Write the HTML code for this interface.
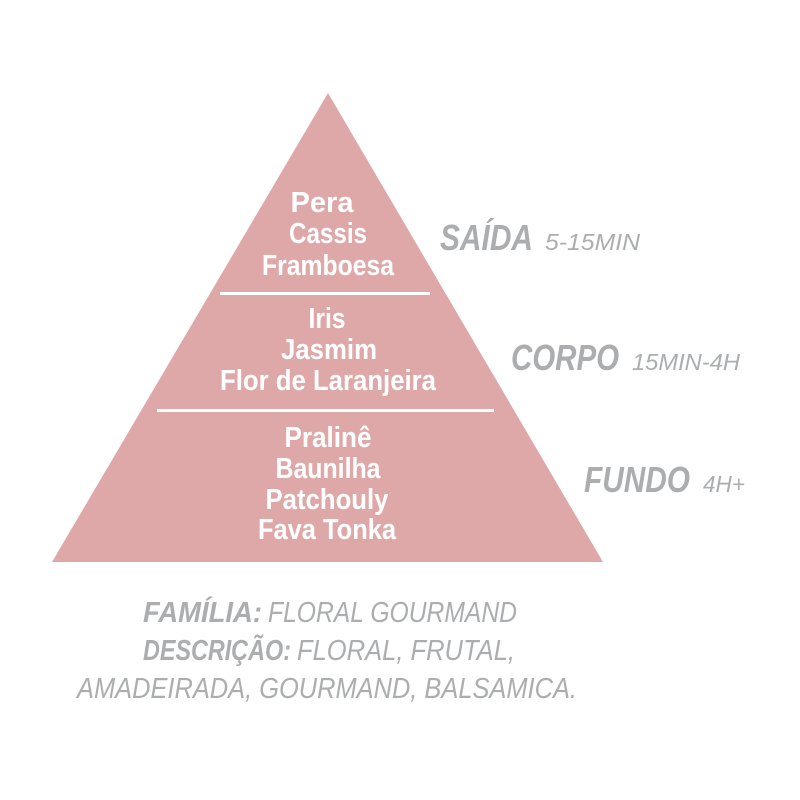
<!DOCTYPE html>
<html><head><meta charset="utf-8"><style>html,body{margin:0;padding:0;background:#fff}svg{display:block}</style></head>
<body>
<svg width="800" height="800" viewBox="0 0 800 800" xmlns="http://www.w3.org/2000/svg">
<polygon points="328,93 603,562 52,562" fill="#dfa8a8"/>
<rect x="220" y="292" width="210" height="3" fill="#fff"/>
<rect x="157" y="409" width="337" height="3" fill="#fff"/>
<g font-family="Liberation Sans, sans-serif" font-weight="bold" font-size="29" fill="#fff" text-anchor="middle">
<text x="322" y="212" textLength="63" lengthAdjust="spacingAndGlyphs">Pera</text>
<text x="328" y="243" textLength="78" lengthAdjust="spacingAndGlyphs">Cassis</text>
<text x="328" y="275" textLength="132" lengthAdjust="spacingAndGlyphs">Framboesa</text>
<text x="327" y="328" textLength="37" lengthAdjust="spacingAndGlyphs">Iris</text>
<text x="329" y="359" textLength="96" lengthAdjust="spacingAndGlyphs">Jasmim</text>
<text x="328" y="390" textLength="216" lengthAdjust="spacingAndGlyphs">Flor de Laranjeira</text>
<text x="328" y="447" textLength="87" lengthAdjust="spacingAndGlyphs">Pralinê</text>
<text x="328" y="478" textLength="105" lengthAdjust="spacingAndGlyphs">Baunilha</text>
<text x="327" y="509" textLength="123" lengthAdjust="spacingAndGlyphs">Patchouly</text>
<text x="327" y="539" textLength="138" lengthAdjust="spacingAndGlyphs">Fava Tonka</text>
</g>
<g font-family="Liberation Sans, sans-serif" font-style="italic" fill="#abadaf">
<text x="440" y="250" font-size="36" font-weight="bold" textLength="93" lengthAdjust="spacingAndGlyphs">SAÍDA</text>
<text x="545" y="250" font-size="23" textLength="95" lengthAdjust="spacingAndGlyphs">5-15MIN</text>
<text x="511" y="370" font-size="36" font-weight="bold" textLength="108" lengthAdjust="spacingAndGlyphs">CORPO</text>
<text x="632" y="370" font-size="23" textLength="108" lengthAdjust="spacingAndGlyphs">15MIN-4H</text>
<text x="584" y="492" font-size="36" font-weight="bold" textLength="106" lengthAdjust="spacingAndGlyphs">FUNDO</text>
<text x="703" y="492" font-size="23" textLength="42" lengthAdjust="spacingAndGlyphs">4H+</text>
<text x="143" y="622" font-size="29" font-weight="bold" textLength="119" lengthAdjust="spacingAndGlyphs">FAMÍLIA:</text>
<text x="268" y="622" font-size="29" textLength="249" lengthAdjust="spacingAndGlyphs">FLORAL GOURMAND</text>
<text x="143" y="660" font-size="29" font-weight="bold" textLength="148" lengthAdjust="spacingAndGlyphs">DESCRIÇÃO:</text>
<text x="297" y="660" font-size="29" textLength="218" lengthAdjust="spacingAndGlyphs">FLORAL, FRUTAL,</text>
<text x="77" y="698" font-size="29" textLength="500" lengthAdjust="spacingAndGlyphs">AMADEIRADA, GOURMAND, BALSAMICA.</text>
</g>
</svg>
</body></html>
